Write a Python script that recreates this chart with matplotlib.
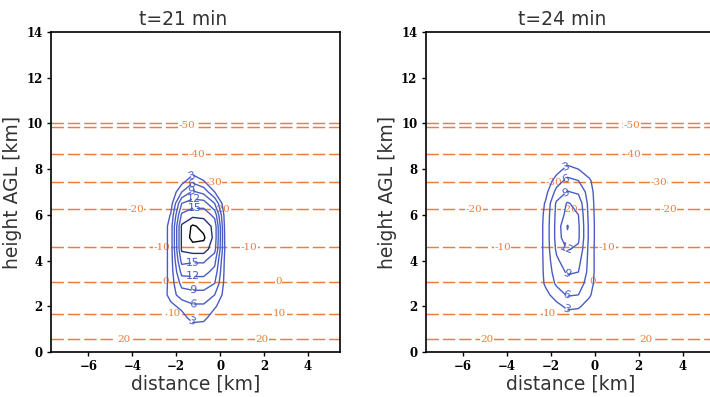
import matplotlib
matplotlib.use('Agg')
import matplotlib.pyplot as plt
import numpy as np

# isotherms (deg C) and their height AGL (km), same in both panels
iso_temps = [20, 10, 0, -10, -20, -30, -40, -50, -60]
iso_heights = [0.56, 1.68, 3.08, 4.59, 6.25, 7.42, 8.66, 9.86, 10.0]

# reflectivity-like field: columns are distance (km),
# rows are height (km)
dist_km = [-2.75, -2.25, -1.75, -1.25, -0.75, -0.25, 0.25, 0.75]
height_km = [0.5, 1.0, 1.5, 2.0, 2.5, 3.0, 3.5, 4.0, 4.5,
             5.0, 5.5, 6.0, 6.5, 7.0, 7.5, 8.0, 8.5]

field_21 = [
    [0, 0,   0,    0,    0,    0,    0,   0],
    [0, 0,   0,    1,    1,    0,    0,   0],
    [0, 0,   1.5,  4.5,  4,    1,    0,   0],
    [0, 2,   4,    5.5,  5.5,  3.5,  0.5, 0],
    [0, 4.5, 7.5,  8,    8,    6,    1.5, 0],
    [0, 4.3, 10,   10.5, 10.5, 9,    1.5, 0],
    [0, 4.3, 13,   13,   13,   11,   1.5, 0],
    [0, 4.3, 16,   15.5, 15.5, 13,   1.5, 0],
    [0, 4.3, 18.5, 19.5, 19.5, 16,   1.8, 0],
    [0, 4.3, 18.5, 22,   21.5, 17,   1.5, 0],
    [0, 4.3, 18.5, 21.5, 20,   17,   1.2, 0],
    [0, 3.2, 15.5, 17,   17,   14,   0.8, 0],
    [0, 1.5, 12,   13.5, 13.5, 9,    0,   0],
    [0, 0,   6,    9.5,  8,    3,    0,   0],
    [0, 0,   1.5,  5,    3,    0.5,  0,   0],
    [0, 0,   0,    1,    0.5,  0,    0,   0],
    [0, 0,   0,    0,    0,    0,    0,   0],
]

field_24 = [
    [0, 0,   0,    0,    0,    0,   0,   0],
    [0, 0,   0,    0,    0,    0,   0,   0],
    [0, 0,   0,    1.5,  1,    0,   0,   0],
    [0, 0,   2,    3.7,  3.5,  1.5, 0,   0],
    [0, 2,   4.5,  6.3,  6,    3.5, 0,   0],
    [0, 3.5, 6.5,  7.8,  7.5,  4.5, 0.3, 0],
    [0, 3.8, 7.5,  9.4,  9,    5,   0.3, 0],
    [0, 3.9, 8.5,  10.5, 10,   5,   0.3, 0],
    [0, 4,   9.5,  12.2, 11.5, 5,   0.3, 0],
    [0, 4,   10,   14.5, 12.5, 5.2, 0.3, 0],
    [0, 4,   10,   15.2, 12.5, 5.2, 0.3, 0],
    [0, 3.8, 9.8,  13,   12,   5,   0.3, 0],
    [0, 3.3, 9.5,  12.3, 11,   4.8, 0.2, 0],
    [0, 2,   7,    9.2,  8.5,  4.5, 0,   0],
    [0, 0.5, 4.5,  6.8,  6,    3.5, 0,   0],
    [0, 0,   1.5,  4,    3,    1,   0,   0],
    [0, 0,   0,    1,    0.5,  0,   0,   0],
]

levels_21 = [3, 6, 9, 12, 15, 18, 21]
levels_24 = [3, 6, 9, 12, 15]
titles = ['t=21 min', 't=24 min']

# where the isotherm labels sit along each line (distance, km)
iso_label_x = [
    {20: [-4.4, 1.9], 10: [-2.1, 2.7], 0: [-2.5, 2.65], -10: [-2.65, 1.3],
     -20: [-3.85, 0.1], -30: [-0.3], -40: [-1.05], -50: [-1.5]},
    {20: [-4.9, 2.3], 10: [-2.05], 0: [-0.1], -10: [-4.2, 0.55],
     -20: [-5.5, -1.15, 3.35], -30: [-1.85, 2.9], -40: [1.75], -50: [1.7]},
]
# where the contour labels go (distance, height)
cl_pos = [
    [(-1.3, 1.4), (-1.25, 2.25), (-1.25, 2.8), (-1.25, 3.3), (-1.25, 3.95),
     (-1.3, 7.75), (-1.3, 7.4), (-1.3, 7.05), (-1.2, 6.7), (-1.15, 6.25)],
    [(-1.3, 1.85), (-1.3, 2.4), (-1.3, 3.35), (-1.3, 4.4),
     (-1.35, 8.1), (-1.35, 7.7), (-1.35, 7.05)],
]
title_x = [0.457, 0.473]

orange = '#ee7d3a'
blue = '#4a5cc4'
tickfont = dict(family='DejaVu Serif', weight='bold', size=8.5)

fig = plt.figure(figsize=(7.1, 3.97), dpi=100)
axes = [fig.add_axes([0.0718, 0.1134, 0.407, 0.806]),
        fig.add_axes([0.5996, 0.1134, 0.407, 0.806])]

fields = [field_21, field_24]
levels = [levels_21, levels_24]

for i, ax in enumerate(axes):
    for t, h in zip(iso_temps, iso_heights):
        ax.axhline(h, color=orange, lw=1.05, dashes=(8.5, 2.7), zorder=1)
        for xl in iso_label_x[i].get(t, []):
            yl = 9.93 if t == -50 else h
            ax.text(xl, yl, '%d' % t, color=orange, ha='center', va='center',
                    fontsize=7.5, family='DejaVu Serif', zorder=2,
                    bbox=dict(fc='white', ec='none', pad=0.3))

    lev = levels[i]
    cols = [blue if l < 18 else ('#26307a' if l == 18 else 'black') for l in lev]
    cs = ax.contour(dist_km, height_km, np.array(fields[i]), levels=lev,
                    colors=cols, linewidths=1.0, zorder=3)
    ax.clabel(cs, fmt='%d', fontsize=8, inline=True, inline_spacing=0,
              manual=cl_pos[i])

    ax.set_xlim(-7.7, 5.45)
    ax.set_ylim(0, 14)
    ax.set_xticks([-6, -4, -2, 0, 2, 4])
    ax.set_yticks(range(0, 15, 2))
    for lab in ax.get_xticklabels() + ax.get_yticklabels():
        lab.set_fontproperties(tickfont)
    ax.tick_params(length=3, width=1, pad=3)
    for s in ax.spines.values():
        s.set_linewidth(1.2)
    ax.set_xlabel('distance [km]', fontsize=13.5, color='#333333', labelpad=1)
    ax.set_ylabel('height AGL [km]', fontsize=13.5, color='#333333', labelpad=3)
    ax.set_title(titles[i], fontsize=13.5, color='#333333', pad=5, x=title_x[i])

fig.savefig('out.png', dpi=100)
